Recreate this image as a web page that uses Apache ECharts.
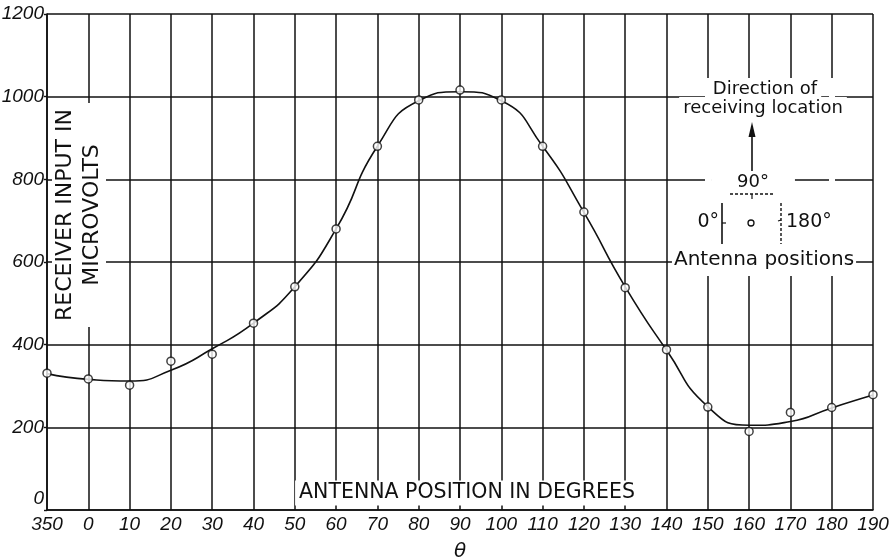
<!DOCTYPE html>
<html>
<head>
<meta charset="utf-8">
<title>Receiver input vs antenna position</title>
<script src="https://cdn.jsdelivr.net/npm/echarts@6/dist/echarts.min.js"></script>
<style>
  html, body { margin: 0; padding: 0; background: #fff; }
  #chart { width: 891px; height: 560px; }
</style>
</head>
<body>
<div id="chart"></div>
<script>
// Antenna position (degrees), running from 350 round through 0 to 190
const angles = ['350', '0', '10', '20', '30', '40', '50', '60', '70', '80', '90',
                '100', '110', '120', '130', '140', '150', '160', '170', '180', '190'];

// Measured receiver input, microvolts (plotted as open circles)
const measured = [331, 317, 302, 360, 377, 452, 540, 680, 880, 992, 1016,
                  992, 880, 721, 538, 388, 249, 190, 236, 248, 279];

// Smooth faired curve drawn through the measurements
const faired = [330, 316, 312, 338, 390, 452, 540, 680, 880, 990, 1012,
                990, 880, 720, 540, 387, 250, 205, 214, 247, 278];

// Vertical scale
const yMin = 0, yMax = 1200, yStep = 200;

const INK = '#111';
const numFont = { fontFamily: 'Liberation Sans', fontStyle: 'italic', fontSize: 19, color: INK };

const chart = echarts.init(document.getElementById('chart'), null, { renderer: 'canvas' });

// Lines and labels of the small sketch in the upper right
const inset = [
  { type: 'text', z: 50, style: { x: 765, y: 89, text: 'Direction of', font: '18px "DejaVu Sans"', fill: INK,
      align: 'center', verticalAlign: 'middle', backgroundColor: '#fff', padding: [2, 4] } },
  { type: 'text', z: 50, style: { x: 763, y: 108, text: 'receiving location', font: '18px "DejaVu Sans"', fill: INK,
      align: 'center', verticalAlign: 'middle', backgroundColor: '#fff', padding: [2, 4] } },
  { type: 'line', z: 50, shape: { x1: 752, y1: 134, x2: 752, y2: 172 }, style: { stroke: INK, lineWidth: 1.6 } },
  { type: 'polygon', z: 50, shape: { points: [[752, 122], [748.5, 137], [755.5, 137]] }, style: { fill: INK } },
  { type: 'text', z: 50, style: { x: 753, y: 182, text: '90°', font: '18px "DejaVu Sans"', fill: INK,
      align: 'center', verticalAlign: 'middle', backgroundColor: '#fff', padding: [2, 26] } },
  { type: 'line', z: 50, shape: { x1: 730, y1: 194, x2: 774, y2: 194 }, style: { stroke: INK, lineWidth: 1.4, lineDash: [3, 2] } },
  { type: 'line', z: 50, shape: { x1: 752, y1: 194, x2: 752, y2: 199 }, style: { stroke: INK, lineWidth: 1.2 } },
  { type: 'line', z: 50, shape: { x1: 722, y1: 203, x2: 722, y2: 244 }, style: { stroke: INK, lineWidth: 1.6 } },
  { type: 'line', z: 50, shape: { x1: 722, y1: 223, x2: 726, y2: 223 }, style: { stroke: INK, lineWidth: 1.2 } },
  { type: 'line', z: 50, shape: { x1: 781, y1: 203, x2: 781, y2: 244 }, style: { stroke: INK, lineWidth: 1.4, lineDash: [3, 2] } },
  { type: 'line', z: 50, shape: { x1: 781, y1: 220, x2: 778, y2: 221 }, style: { stroke: INK, lineWidth: 1.2 } },
  { type: 'circle', z: 50, shape: { cx: 751, cy: 223, r: 3 }, style: { fill: '#fff', stroke: INK, lineWidth: 1.3 } },
  { type: 'text', z: 50, style: { x: 719, y: 222, text: '0°', font: '19px "DejaVu Sans"', fill: INK,
      align: 'right', verticalAlign: 'middle' } },
  { type: 'text', z: 50, style: { x: 786, y: 222, text: '180°', font: '19px "DejaVu Sans"', fill: INK,
      align: 'left', verticalAlign: 'middle' } },
  { type: 'text', z: 50, style: { x: 764, y: 260, text: 'Antenna positions', font: '20px "DejaVu Sans"', fill: INK,
      align: 'center', verticalAlign: 'middle', backgroundColor: '#fff', padding: [2, 2] } }
];

// Blank out the vertical rulings that would run through the sketch
const clearStrips = [708, 749.5, 791, 832].map(function (x) {
  return { type: 'rect', z: 40, shape: { x: x - 3, y: 78, width: 6, height: 198 }, style: { fill: '#fff' } };
});

const option = {
  backgroundColor: '#fff',
  animation: false,
  grid: { left: 47, right: 18, top: 14, bottom: 50, containLabel: false, outerBoundsMode: 'none' },
  xAxis: {
    type: 'category',
    data: angles,
    boundaryGap: false,
    name: 'θ',
    nameLocation: 'middle',
    nameGap: 32,
    nameTextStyle: { fontFamily: 'DejaVu Sans', fontStyle: 'italic', fontSize: 20, color: INK },
    axisLine: { show: true, lineStyle: { color: INK, width: 1.6 } },
    axisTick: { show: false },
    axisLabel: Object.assign({ margin: 5, interval: 0 }, numFont),
    splitLine: { show: true, lineStyle: { color: INK, width: 1.5 } }
  },
  yAxis: {
    type: 'value',
    min: yMin,
    max: yMax,
    interval: yStep,
    axisLine: { show: true, lineStyle: { color: INK, width: 1.6 } },
    axisTick: { show: true, length: 3, lineStyle: { color: INK, width: 1.4 } },
    axisLabel: Object.assign({
      margin: 3,
      formatter: function (v) { return v === 0 ? '{zero|0}' : String(v); },
      rich: { zero: { fontFamily: 'Liberation Sans', fontStyle: 'italic', fontSize: 19, color: INK, padding: [0, 0, 22, 0] } }
    }, numFont),
    splitLine: { show: true, lineStyle: { color: INK, width: 1.5 } }
  },
  series: [
    {
      name: 'faired curve',
      type: 'line',
      data: faired,
      smooth: 0.55,
      symbol: 'none',
      lineStyle: { color: INK, width: 1.6 },
      z: 3
    },
    {
      name: 'measured',
      type: 'scatter',
      data: measured,
      symbol: 'circle',
      symbolSize: 8,
      itemStyle: { color: '#fff', borderColor: INK, borderWidth: 1.5 },
      z: 4
    }
  ],
  graphic: [
    // ordinate caption, written up the inside of the left edge
    { type: 'text', z: 50, x: 79, y: 215, rotation: Math.PI / 2,
      style: { x: 0, y: 0, text: 'RECEIVER INPUT IN\nMICROVOLTS', font: '22px "DejaVu Sans"', fill: INK,
        align: 'center', verticalAlign: 'middle', lineHeight: 27, backgroundColor: '#fff', padding: [0, 6] } },
    // abscissa caption along the bottom inside the frame
    { type: 'text', z: 50,
      style: { x: 467, y: 493, text: 'ANTENNA POSITION IN DEGREES', font: '20.5px "DejaVu Sans"', fill: INK,
        align: 'center', verticalAlign: 'middle', backgroundColor: '#fff', padding: [2, 4] } }
  ].concat(clearStrips, inset)
};

chart.setOption(option);
</script>
</body>
</html>
